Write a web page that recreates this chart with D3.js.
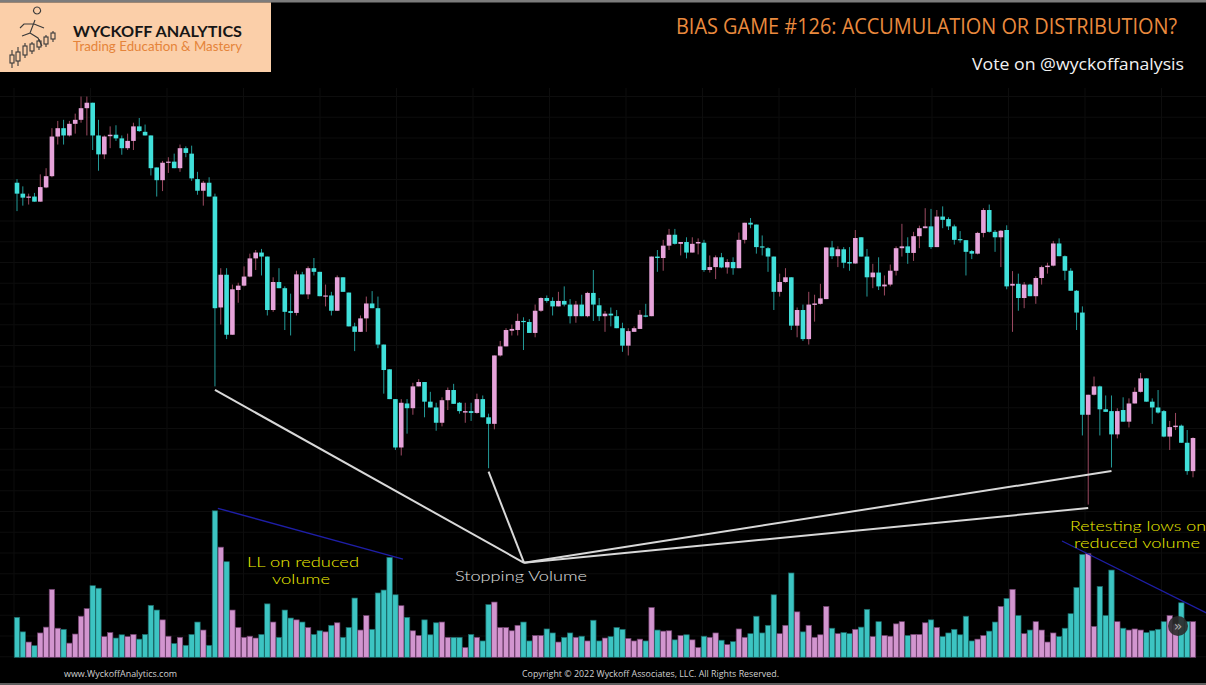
<!DOCTYPE html>
<html><head><meta charset="utf-8">
<script src="https://cdn.jsdelivr.net/npm/d3@7"></script>
<style>html,body{margin:0;padding:0;background:#000;overflow:hidden}svg{display:block}</style>
</head><body><svg id="c" width="1206" height="685"></svg>
<script>
// ---- DATA (arbitrary price units) ----
const opens=[134.5,131.5,130.4,130.7,129.3,133.2,136.3,147.2,149.5,147.5,
150.7,151.8,155,156.5,147.5,142.3,147.3,147.7,146.7,144,
146,150,148.5,147.5,138.7,135.2,140,140.3,138.5,144,
142.5,135.5,132.3,134.5,130.7,100.2,109.2,92.7,105,106.2,
108.7,113.7,115.3,114.2,99.5,107.2,105.5,99.2,98.7,109.3,
103.8,111,110,103.2,103.5,99.3,108.5,104.3,95,93.5,
97.2,101.3,100,90,83.2,75,61.7,73.8,72.5,78.5,
79.7,74.3,72.7,68.5,74.7,77.5,74,71.3,71.7,71.2,
75,70,68.2,87,89.5,93.8,94,96.5,96.2,93.2,
99.3,102.8,102,100.5,102,101,97.8,101,97.8,104.2,
100.8,97.8,98.5,97.8,94.5,89.7,93.5,94.3,98,97.8,
114.2,113.8,117.2,120.2,117.7,118.2,115.3,117.8,118,110.5,
111.3,114,111.2,112.7,111,118.8,123.5,123,117,116.5,
114.2,104.5,107.2,108.5,95.2,99.5,91.5,100.9,101.2,102.5,
116.7,114.3,116.2,112.7,112.3,119.5,114.2,108.5,109.8,106,
106.5,110.3,116.5,117,115.2,119.8,122,122.5,116.8,125.2,
124.5,122.5,119,118.7,115.7,115,120.7,127,121,119.5,
121.5,106.2,106.7,102.8,106.5,103.3,108.3,111.3,111.7,117.8,
114.3,110.3,104.8,98.8,70.7,76.2,78.5,72.2,71.7,65.3,
72,68.8,73.8,77,80.7,74.3,72.7,71.7,64.7,67.3,
67.7,63,55.2];
const highs=[135.5,133.5,131.5,131.7,136.8,138.5,149.5,151.5,151.8,151.5,
153.5,158.2,158.2,156.5,151.8,147.5,150,150.3,147.5,148,
151,152.3,150.5,147.5,138.7,140.5,141.5,142.5,145,144.5,
144.7,137.5,135,136,131.5,111,111,106.5,107,111.5,
115,116,116.3,114.2,108.5,111,106,104,110.3,110,
111.5,113.8,110,106.5,104.5,109,108.5,104.3,96,98,
103.2,104.7,103.2,90,83.2,75,75,75,79.5,80.5,
79.7,77,74,75.5,78.2,79.2,74.2,74,74,76.5,
76,71,87,91,94.5,95.5,98.5,97.5,97,101,
103,103.5,103,104.5,106,102.5,102,103.7,104.5,110.5,
102.8,99.2,100.2,99.5,96,94.5,95,99.5,101.2,114.2,
116,118.8,121.8,121.8,118.2,119.5,119.5,119.2,118.8,114.5,
114.5,115.2,113.5,114,120.8,123.5,124.8,123,120,116.8,
114.2,109.5,111,108.5,100.2,101,104.5,103.7,106.7,116.7,
118.5,117,116.8,116.8,121.5,119.5,116.3,112.2,114,109,
112,117,123.2,119.5,121,122.7,127.5,127.3,127,128,
125,123,121.2,118.7,116,121,127.5,128.5,121.5,121.5,
122.8,110.2,109.5,107.2,106.7,108.8,111.7,112.5,118.5,119.2,
114.5,111,105,100.5,76.2,81.2,78.7,76,76,72.5,
75.5,75.2,78.2,82.2,80.7,75.2,77.5,72,69,71.2,
68,66.5,64.5];
const lows=[126.7,128.2,128.5,129.3,129.3,133,136,145,145,147.2,
148,151,147.5,143.5,137.8,141,144,146,142.2,143.5,
143.5,148.5,147.5,136.5,130.7,132.2,137.2,138.5,137.5,141.5,
135,131.2,128.2,130.7,78.5,95.5,91.5,92.7,101.5,106,
108.5,110.5,109,98,99,105.5,94,92.5,98,103.8,
102.5,109,103.3,100.5,98,99.3,104.5,95,88.2,93.5,
93.5,100,89,76.5,75,61,59.5,65.5,70.7,78.5,
70,72.7,66.3,67.5,72,73.7,71,68.5,69,71,
70,56,66.7,86.7,89.5,92.5,92.5,88.5,93.2,92,
99,101.5,98,100.5,100.5,95.8,96,97.8,97.5,96.5,
96.5,93.5,95,94.5,88,87,93.5,94.3,97.5,97.8,
110,110.3,116,117.5,114.5,113.7,115.3,114.8,110,109.8,
108,111,109.5,109.2,111,117.8,122,115,114.5,110,
99.5,103.2,107,94,92,91,90,96.3,101,102.5,
113.5,111.3,111,110.3,112.2,114.2,103.2,105.5,105,103.5,
106,109,114.2,112.2,113,116.5,122,116.3,116.8,122,
121.5,117.5,118,109,113.5,114.8,119.5,120.8,115.5,111.3,
105.2,93.5,99.3,100,103.3,101.2,106.5,109.5,111.5,114.3,
107.7,104.8,94,65,46,76,65,71.5,56.2,64.2,
68.8,67.2,73.8,76.8,74.3,68.2,71,64.5,61,66.5,
63,54.2,53.5];
const closes=[131.5,130.4,130.7,129.3,133.3,136.3,147.2,149.5,147.5,150.7,
151.8,155,156.5,147.5,142.3,147.2,147.7,146.7,144,146,
150,148.7,147.5,138.5,135.2,140,140.3,138.5,144,142.7,
135.7,132.3,134.5,130.7,100,109.2,92.7,105.2,106.2,108.7,
113.7,115.3,114.2,99.5,107.2,105.5,99,98.7,109.3,103.8,
111,110,103.3,103.5,99.3,108.5,104.5,95,93.5,97.2,
101.3,100,90,83,75,61.7,74,72.5,78.5,79.7,
74.3,72.7,68.5,74.7,77.5,73.7,71.7,71.7,71.2,75,
70,68.2,87,89.5,94,94.3,96.5,96.3,93.2,99.3,
102.8,102,100.5,102,101,97.8,101,97.8,104.2,101,
97.8,98.5,98,94.5,89.7,93.7,94.5,98.2,97.7,114.2,
113.8,117.2,120.2,117.7,118.2,115.3,117.7,118.2,110.5,111.3,
114,111.2,112.7,111,118.8,123.5,123,116.8,116.7,114.2,
104.5,107.2,108.5,95.2,99.5,91.5,101,101.3,102.7,116.7,
114.3,116.2,112.5,112.3,119.3,114.2,108.5,109.8,106,106.5,
110.3,116.5,117,115.2,119.8,122,122.5,116.8,125.2,124.3,
122.5,118.8,118.7,115.5,115,120.7,127,121,119.5,121.3,
106,106.7,102.8,106.5,103.3,108.3,111.3,111.7,117.8,114.3,
110.3,104.8,98.8,70.7,76.2,78.5,72.2,71.5,65.3,71.7,
68.8,73.8,77,80.7,74.3,72.7,71.3,64.7,67.3,67.7,
63,55.2,64.3];
const volumes=[11,7,4.2,3.2,6.7,8.3,18.7,8,7.7,3.9,
6.4,11.3,13.4,19.7,19,5.7,6.8,5.3,6.2,5.7,
6.3,5,6.3,14.3,13,10.3,5.8,3.8,5.5,3.3,
6.3,9.7,7.5,3.3,40.3,30.3,26.3,13,8.2,5.5,
5.8,5.3,6.3,14.7,9.7,5.5,13,10.8,10.3,9.7,
8.2,6.3,7.3,7,8.8,9.5,5.5,8.2,16.3,7.5,
11.5,7.7,17.7,18.5,27.5,17.2,14.2,11,7.3,6,
10.3,6.2,9.5,9.7,5.5,5.5,5.5,2.7,6.3,5.5,
4.5,14.5,15.2,8.2,8.2,7.3,8.8,9.7,4.5,6,
6,7.8,6.7,4.2,5.5,6.7,5.5,5.8,4.5,10.2,
4.5,5.3,5.7,8.2,7.7,5.2,4.5,5,4.5,13.7,
7.5,7.2,7.3,4.8,6,6.2,4.8,2.7,5.8,5.5,
6.7,4.7,3.5,4.3,7.8,5.5,6.5,11.3,6.7,8.8,
17.2,6.5,8.8,23.2,12.5,7,8.8,5.5,6.2,14,
8,6.5,6.8,6.5,7.7,8.3,13.2,5.7,9.8,6,
5.8,9.2,9.8,6,6.3,6.3,9.5,10.3,8.2,5.7,
6.7,7.7,6.2,11.3,4.5,5,6,7.2,9.7,14,
16.2,18.7,11.5,6.5,7.5,9.8,7.5,4.2,6.7,5.7,
8,12,19.2,28.3,28.5,8.5,19.5,11.5,24,9.8,
8,7.5,7.8,7.5,6.8,7.3,7.7,9.8,11.5,9,
15,9.8,9.8];
// annotations (candle index / price or volume units)
const stopAnchor={i:87.1,p:30};
const stopTargets=[34,81,184,188];
const volTrends=[[[34.5,41],[66.3,27]],[[179.5,32],[204.3,12.2]]];
const title="BIAS GAME #126: ACCUMULATION OR DISTRIBUTION?";
const subtitle="Vote on @wyckoffanalysis";

// ---- DRAWING ----
const n=opens.length;
const svg=d3.select('#c');
svg.append('rect').attr('width',1206).attr('height',685).attr('fill','#000');

const x=d3.scaleLinear().domain([0,n-1]).range([17,1193]);
const y=d3.scaleLinear().domain([40,160]).range([526.4,90]);
const yv=d3.scaleLinear().domain([0,40]).range([657.3,511.9]);

// faint grid
const grid=svg.append('g').attr('stroke','#0d0d0d').attr('stroke-width',1);
d3.range(96.5,658,20.75).forEach(v=>grid.append('line').attr('x1',0).attr('x2',1206).attr('y1',v).attr('y2',v));
d3.range(14,1206,76.5).forEach(v=>grid.append('line').attr('x1',v).attr('x2',v).attr('y1',88).attr('y2',658));

const UP='#e6a3da',DN='#40e0da',UPW='#9c4a62',DNW='#239a98';
const VUP='#d295cf',VDN='#3cc4c2',VUPS='#6e3f6c',VDNS='#1b6664';
const data=d3.range(n).map(i=>({i,o:opens[i],h:highs[i],l:lows[i],c:closes[i],v:volumes[i],up:closes[i]>=opens[i]}));

// volume
svg.append('g').selectAll('rect').data(data).join('rect')
 .attr('x',d=>x(d.i)-2.7).attr('width',5.4)
 .attr('y',d=>yv(d.v)).attr('height',d=>yv(0)-yv(d.v))
 .attr('fill',d=>d.up?VUP:VDN).attr('stroke',d=>d.up?VUPS:VDNS).attr('stroke-width',0.7);

// candles
const cg=svg.append('g');
cg.selectAll('line').data(data).join('line')
 .attr('x1',d=>x(d.i)).attr('x2',d=>x(d.i))
 .attr('y1',d=>y(d.h)).attr('y2',d=>y(d.l))
 .attr('stroke',d=>d.up?UPW:DNW).attr('stroke-width',1);
cg.selectAll('rect').data(data).join('rect')
 .attr('x',d=>x(d.i)-2.3).attr('width',4.6)
 .attr('y',d=>y(Math.max(d.o,d.c)))
 .attr('height',d=>Math.max(1.2,Math.abs(y(d.o)-y(d.c))))
 .attr('fill',d=>d.up?UP:DN);

// stopping volume lines
const ax=x(stopAnchor.i),ay=y(stopAnchor.p);
svg.append('g').selectAll('line').data(stopTargets).join('line')
 .attr('x1',ax).attr('y1',ay)
 .attr('x2',i=>x(i)).attr('y2',i=>y(lows[i])+3.5)
 .attr('stroke','#d8d8d8').attr('stroke-width',2);

// volume trend lines
svg.append('g').selectAll('line').data(volTrends).join('line')
 .attr('x1',d=>x(d[0][0])).attr('y1',d=>yv(d[0][1]))
 .attr('x2',d=>x(d[1][0])).attr('y2',d=>yv(d[1][1]))
 .attr('stroke','#1e1ea6').attr('stroke-width',1.3);

// annotation texts
function label(t,cx,by,w,col){
 svg.append('text').attr('x',cx).attr('y',by).attr('text-anchor','middle')
  .attr('font-family','Lato, "Open Sans", sans-serif').attr('font-weight',300)
  .attr('font-size',13.6).attr('fill',col)
  .attr('textLength',w).attr('lengthAdjust','spacingAndGlyphs').text(t);
}
const YEL='#f0f000';
label('LL on reduced',303,567,112,YEL);
label('volume',301,583.5,58,YEL);
label('Stopping Volume',521,581,132,'#e0e0e0');
label('Retesting lows on',1138,531,136,YEL);
label('reduced volume',1137,547.5,126,YEL);

// scroll button
svg.append('circle').attr('cx',1178).attr('cy',626).attr('r',10).attr('fill','#2b2b2b').attr('opacity',0.9);
svg.append('text').attr('x',1178).attr('y',631).attr('text-anchor','middle').attr('font-family','DejaVu Sans')
 .attr('font-size',14).attr('fill','#aaa').text('»');

// borders
svg.append('rect').attr('x',0).attr('y',0).attr('width',1206).attr('height',2.5).attr('fill','#7c7c7c');
svg.append('rect').attr('x',0).attr('y',683).attr('width',1206).attr('height',2).attr('fill','#5e5e5e');

// logo
svg.append('rect').attr('x',0).attr('y',2.5).attr('width',271).attr('height',69.5).attr('fill','#fbcfa9');
const lg=svg.append('g').attr('stroke','#3a3a3a').attr('stroke-width',1.1).attr('fill','none');
const logoC=[[12,50,68,55,63],[18,47,66,52,61],[25,43,58,46,55],[32,42,54,44,51],[39,39,50,41,47],[46,35,47,37,44],[53,31,42,33,39]];
logoC.forEach(c=>{lg.append('line').attr('x1',c[0]).attr('x2',c[0]).attr('y1',c[1]).attr('y2',c[2]);
 lg.append('rect').attr('x',c[0]-2).attr('y',c[3]).attr('width',4).attr('height',c[4]-c[3]).attr('fill','#fbcfa9');});
lg.append('path').attr('d','M37,14 a3.5,3.5 0 1,1 0.1,0 M35,20 L30,33 L22,36 M30,33 L38,38 L42,46 M34,24 L44,28 M34,24 L24,24 L20,28');
svg.append('text').attr('x',73).attr('y',36.5).attr('font-family','Lato, sans-serif').attr('font-weight',700)
 .attr('font-size',15.5).attr('fill','#161616').attr('textLength',169).attr('lengthAdjust','spacingAndGlyphs').text('WYCKOFF ANALYTICS');
svg.append('text').attr('x',73).attr('y',51).attr('font-family','Lato, sans-serif').attr('font-weight',400)
 .attr('font-size',13.5).attr('fill','#e5843a').attr('textLength',169).attr('lengthAdjust','spacingAndGlyphs').text('Trading Education & Mastery');

// titles
svg.append('text').attr('x',676).attr('y',34).attr('font-family','"Open Sans", sans-serif')
 .attr('font-size',21).attr('fill','#ea8a3e').attr('textLength',501).attr('lengthAdjust','spacingAndGlyphs').text(title);
svg.append('text').attr('x',972).attr('y',70).attr('font-family','"Open Sans", sans-serif')
 .attr('font-size',17).attr('fill','#f2f2f2').attr('textLength',212).attr('lengthAdjust','spacingAndGlyphs').text(subtitle);

// footer
svg.append('text').attr('x',64).attr('y',677).attr('font-family','"Open Sans", sans-serif')
 .attr('font-size',9).attr('fill','#d0d0d0').attr('textLength',113).attr('lengthAdjust','spacingAndGlyphs').text('www.WyckoffAnalytics.com');
svg.append('text').attr('x',522).attr('y',677).attr('font-family','"Open Sans", sans-serif')
 .attr('font-size',9).attr('fill','#d0d0d0').attr('textLength',257).attr('lengthAdjust','spacingAndGlyphs').text('Copyright © 2022 Wyckoff Associates, LLC. All Rights Reserved.');
</script></body></html>
